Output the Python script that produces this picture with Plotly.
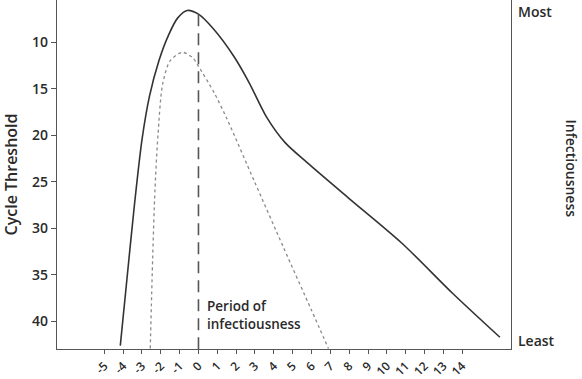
import plotly.graph_objects as go

# ---- data ----
solid_day = [-4.15, -3.8, -3.4, -3.0, -2.6, -2.1, -1.6, -1.1, -0.6, 0.0, 0.8, 1.9, 2.7, 3.6, 4.6, 5.8, 8.0, 10.8, 13.5, 16.0]
solid_ct = [42.6, 35.5, 27.5, 20.5, 15.8, 12.0, 9.3, 7.4, 6.6, 7.0, 8.6, 11.6, 14.4, 18.0, 20.8, 23.0, 26.8, 31.6, 37.0, 41.7]

dotted_day = [-2.56, -2.43, -2.31, -2.15, -1.9, -1.5, -0.85, -0.3, 0.0, 0.85, 1.5, 3.0, 4.5, 6.0, 6.9]
dotted_ct = [42.9, 33.1, 25.9, 20.0, 14.5, 12.0, 11.1, 11.7, 12.6, 15.5, 18.2, 25.1, 32.0, 38.8, 42.9]

marker_day = [0, 0]
marker_ct = [7.0, 43.0]

x_ticks = list(range(-5, 15))
y_ticks = [10, 15, 20, 25, 30, 35, 40]

FONT = "Open Sans"
DARK = "#2a2a2a"

fig = go.Figure()
fig.add_trace(go.Scatter(x=solid_day, y=solid_ct, mode="lines", line_shape="spline",
                         line=dict(color="#333333", width=1.6, smoothing=0.8), hoverinfo="skip"))
fig.add_trace(go.Scatter(x=dotted_day, y=dotted_ct, mode="lines", line_shape="spline",
                         line=dict(color="#8a8a8a", width=1.3, dash="dot", smoothing=0.8), hoverinfo="skip"))
fig.add_trace(go.Scatter(x=marker_day, y=marker_ct, mode="lines",
                         line=dict(color="#555555", width=1.6, dash="12px,7px"), hoverinfo="skip"))

fig.update_layout(
    width=582, height=379,
    margin=dict(l=57, r=71, t=0, b=30),
    paper_bgcolor="white", plot_bgcolor="white",
    showlegend=False,
    font=dict(family=FONT, color=DARK),
    xaxis=dict(range=[-7.51, 16.59], tickvals=x_ticks, ticktext=[str(v) for v in x_ticks],
               showgrid=False, zeroline=False, showline=True, linecolor="#555555", linewidth=1.3,
               ticks="outside", ticklen=4, tickcolor="#555555", tickangle=-45, automargin=False,
               tickfont=dict(family=FONT, size=12, color=DARK, weight=600)),
    yaxis=dict(range=[42.96, 5.48], tickvals=y_ticks, automargin=False,
               showgrid=False, zeroline=False, showline=True, linecolor="#555555", linewidth=1.3,
               mirror=True, ticks="outside", ticklen=5, tickcolor="#555555",
               tickfont=dict(family=FONT, size=14, color=DARK, weight=600),
               title=dict(text="Cycle Threshold", standoff=14,
                          font=dict(family=FONT, size=16, color=DARK, weight=600))),
)

fig.add_annotation(x=0, y=0.096, xref="x", yref="paper", text="Period of<br>infectiousness",
                   showarrow=False, xanchor="left", yanchor="middle", align="left", xshift=7,
                   font=dict(family=FONT, size=13.5, color=DARK, weight=600))
fig.add_annotation(x=1, y=1, xref="paper", yref="paper", text="Most", showarrow=False,
                   xanchor="left", yanchor="top", xshift=5, yshift=0,
                   font=dict(family=FONT, size=14, color=DARK, weight=600))
fig.add_annotation(x=1, y=0.025, xref="paper", yref="paper", text="Least", showarrow=False,
                   xanchor="left", yanchor="middle", xshift=5,
                   font=dict(family=FONT, size=14, color=DARK, weight=600))
fig.add_annotation(x=1, y=0.5, xref="paper", yref="paper", text="Infectiousness", showarrow=False,
                   textangle=90, xanchor="center", yanchor="middle", xshift=60, yshift=6,
                   font=dict(family=FONT, size=14, color=DARK, weight=600))

fig.write_html("out.html", config={"displayModeBar": False},
               post_script="document.body.style.margin='0';")
